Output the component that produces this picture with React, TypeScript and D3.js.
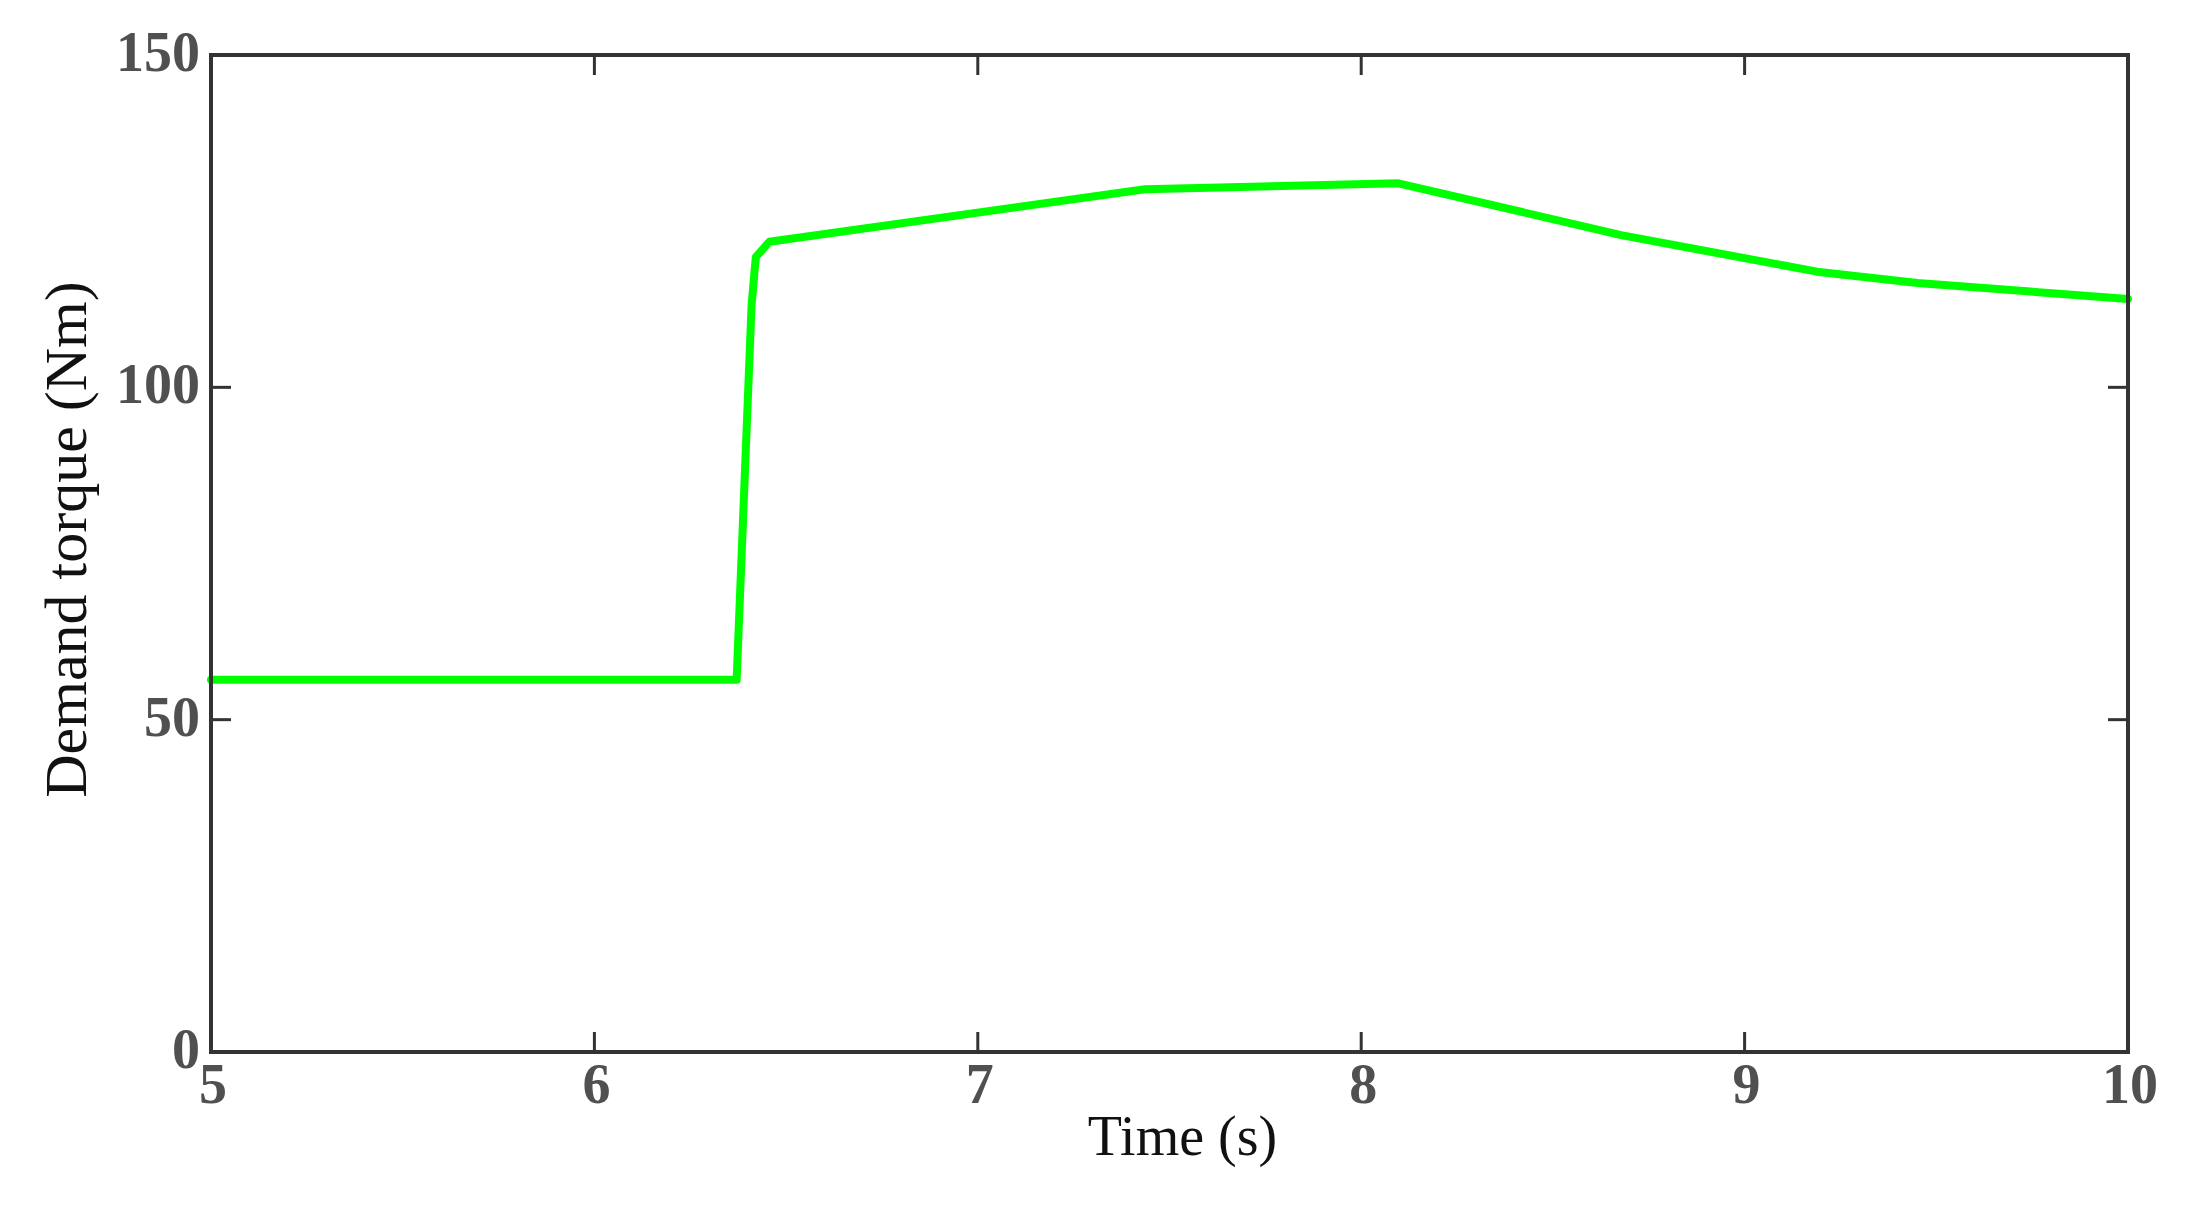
import React, { useRef, useEffect } from "react";
import * as d3 from "d3";

// values
const timeS = [5, 6.371, 6.41, 6.421, 6.456, 7.436, 8.097, 8.678, 9.189, 9.451, 10];
const torqueNm = [56, 56, 112.4, 119.6, 121.9, 129.8, 130.7, 122.9, 117.4, 115.7, 113.3];

const xTicks = [5, 6, 7, 8, 9, 10];
const yTicks = [0, 50, 100, 150];

const App = () => {
  const svgRef = useRef<SVGSVGElement>(null);

  useEffect(() => {
    document.body.style.margin = "0";

    const width = 2188;
    const height = 1206;
    const margin = { left: 211, right: 60, top: 55, bottom: 154 };

    const svg = d3.select(svgRef.current);
    svg.selectAll("*").remove();
    svg.attr("width", width).attr("height", height);

    const x = d3
      .scaleLinear()
      .domain([5, 10])
      .range([margin.left, width - margin.right]);
    const y = d3
      .scaleLinear()
      .domain([0, 150])
      .range([height - margin.bottom, margin.top]);

    const [x0, x1] = x.range();
    const [y0, y1] = y.range();
    const tickLen = 20;
    const axisColor = "#333";
    const labelColor = "#505050";
    const font = "'Liberation Serif', 'Times New Roman', serif";

    // data line
    const points = timeS.map((t, i) => [t, torqueNm[i]] as [number, number]);
    const line = d3
      .line<[number, number]>()
      .x((d) => x(d[0]))
      .y((d) => y(d[1]));

    svg
      .append("path")
      .datum(points)
      .attr("d", line)
      .attr("fill", "none")
      .attr("stroke", "#00ff00")
      .attr("stroke-width", 8)
      .attr("stroke-linejoin", "round")
      .attr("stroke-linecap", "round");

    // ticks, inward on all four sides
    const ticks = svg.append("g").attr("stroke", axisColor).attr("stroke-width", 3);
    xTicks.forEach((t) => {
      ticks.append("line").attr("x1", x(t)).attr("x2", x(t)).attr("y1", y0).attr("y2", y0 - tickLen);
      ticks.append("line").attr("x1", x(t)).attr("x2", x(t)).attr("y1", y1).attr("y2", y1 + tickLen);
    });
    yTicks.forEach((v) => {
      ticks.append("line").attr("x1", x0).attr("x2", x0 + tickLen).attr("y1", y(v)).attr("y2", y(v));
      ticks.append("line").attr("x1", x1).attr("x2", x1 - tickLen).attr("y1", y(v)).attr("y2", y(v));
    });

    // frame
    svg
      .append("rect")
      .attr("x", x0)
      .attr("y", y1)
      .attr("width", x1 - x0)
      .attr("height", y0 - y1)
      .attr("fill", "none")
      .attr("stroke", axisColor)
      .attr("stroke-width", 4);

    // tick labels
    svg
      .append("g")
      .selectAll("text")
      .data(xTicks)
      .enter()
      .append("text")
      .attr("x", (d) => x(d) + 2)
      .attr("y", y0 + 51)
      .attr("text-anchor", "middle")
      .attr("font-family", font)
      .attr("font-weight", "bold")
      .attr("font-size", 56)
      .attr("fill", labelColor)
      .text((d) => d);

    svg
      .append("g")
      .selectAll("text")
      .data(yTicks)
      .enter()
      .append("text")
      .attr("x", x0 - 11)
      .attr("y", (d) => y(d) + 16)
      .attr("text-anchor", "end")
      .attr("font-family", font)
      .attr("font-weight", "bold")
      .attr("font-size", 56)
      .attr("fill", labelColor)
      .text((d) => d);

    // axis titles
    svg
      .append("text")
      .attr("x", (x0 + x1) / 2 + 13)
      .attr("y", 1155)
      .attr("text-anchor", "middle")
      .attr("font-family", font)
      .attr("font-size", 56)
      .attr("fill", "#111")
      .text("Time (s)");

    svg
      .append("text")
      .attr("transform", `translate(86, ${(y0 + y1) / 2 - 14}) rotate(-90)`)
      .attr("text-anchor", "middle")
      .attr("font-family", font)
      .attr("font-size", 60)
      .attr("fill", "#111")
      .text("Demand torque (Nm)");
  }, []);

  return (
    <div style={{ width: 2188, height: 1206, background: "#fff" }}>
      <svg ref={svgRef}></svg>
    </div>
  );
};

export default App;
